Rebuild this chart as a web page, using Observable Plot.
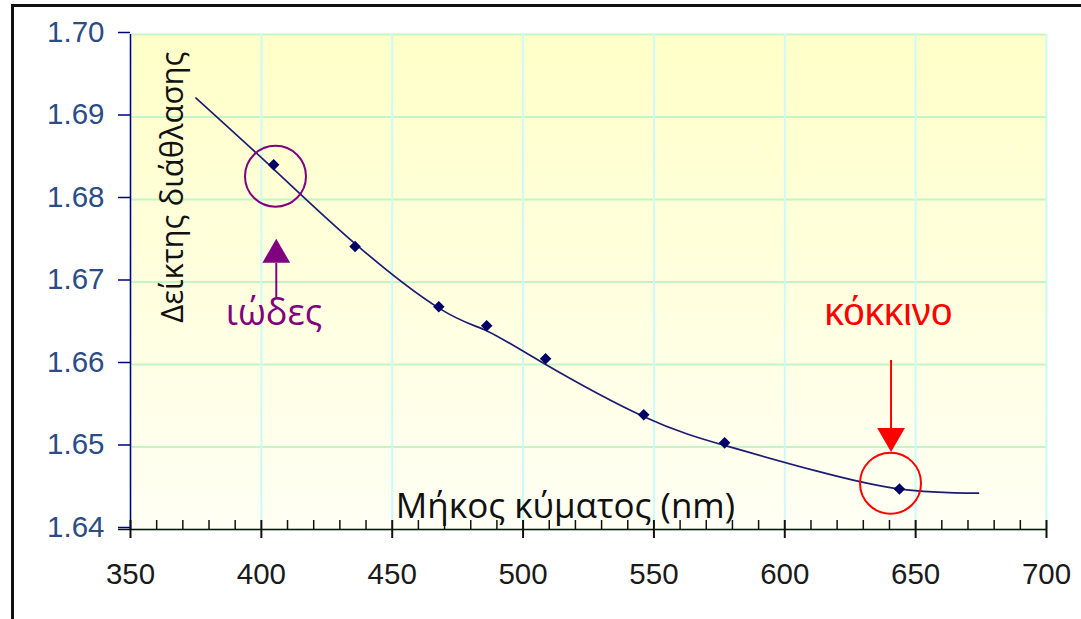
<!DOCTYPE html>
<html><head><meta charset="utf-8">
<script src="https://cdn.jsdelivr.net/npm/d3@7"></script>
<script src="https://cdn.jsdelivr.net/npm/@observablehq/plot@0.6"></script>
<style>
html,body{margin:0;padding:0;background:#fff;overflow:hidden;width:1081px;height:619px;}
#wrap{position:relative;width:1081px;height:619px;}
#frame{position:absolute;left:11px;top:4px;width:1200px;height:800px;border:3px solid #111;box-sizing:border-box;pointer-events:none;}
</style></head><body><div id="wrap"><div id="chart"></div><div id="frame"></div></div>
<script>
// Measured points: wavelength (nm) and refractive index
const wavelength = [404.7, 435.8, 467.8, 486.1, 508.6, 546.1, 577.0, 643.8];
const refIndex   = [1.6842, 1.6743, 1.6670, 1.6647, 1.6607, 1.6539, 1.6505, 1.6449];

// Trend curve
const fitX = [375, 405, 436, 468, 486, 507, 546, 578, 612, 644, 674];
const fitY = [1.6923, 1.6836, 1.6746, 1.6668, 1.6641, 1.6603, 1.6537, 1.6501, 1.6471, 1.6449, 1.6444];

// Axis ticks
const xTicks = [350, 400, 450, 500, 550, 600, 650, 700];
const xMinor = d3.range(350, 701, 10).filter(v => v % 50 !== 0);
const yTicks = [1.64, 1.65, 1.66, 1.67, 1.68, 1.69, 1.70];

// Annotations
const labelTexts = ["ιώδες", "κόκκινο"];
const labelX = [404.8, 639.6];
const labelY = [1.66473, 1.66473];
const circleX = [405.4, 640.4];
const circleY = [1.68282, 1.64561];
const arrowX = [405.7, 640.6];
const arrowHeadY = [1.67330, 1.65133];
const arrowShaftY1 = [1.67224, 1.66049];
const arrowShaftY2 = [1.66812, 1.65224];
const annColors = ["#800080", "#ff0000"];

const points = wavelength.map((w, i) => ({w, n: refIndex[i]}));
const fit = fitX.map((w, i) => ({w, n: fitY[i]}));
const ann = labelTexts.map((t, i) => ({
  t, lx: labelX[i], ly: labelY[i], cx: circleX[i], cy: circleY[i],
  ax: arrowX[i], ah: arrowHeadY[i], a1: arrowShaftY1[i], a2: arrowShaftY2[i],
  c: annColors[i], rot: i === 0 ? 0 : 180
}));

const chart = Plot.plot({
  width: 1081, height: 619,
  marginLeft: 130, marginRight: 35, marginTop: 34, marginBottom: 90,
  style: {fontFamily: "'Liberation Sans', Arial, sans-serif", background: "transparent", overflow: "visible"},
  x: {domain: [350, 700], axis: null},
  y: {domain: [1.64, 1.70], axis: null},
  marks: [
    Plot.frame({fill: "url(#bgGrad)", stroke: null}),
    Plot.ruleY(yTicks, {stroke: "#c4f5c4", strokeWidth: 2}),
    Plot.ruleX(xTicks, {stroke: "#ccfafa", strokeWidth: 2}),
    Plot.ruleX([350], {stroke: "#000080", strokeWidth: 1.5}),
    Plot.ruleY([1.64], {x1: 345.4, x2: 700, stroke: "#111", strokeWidth: 1.5}),
    Plot.ruleX(xMinor, {y1: 1.64, y2: 1.64109, stroke: "#111", strokeWidth: 1.5}),
    Plot.ruleX(xTicks, {y1: 1.63891, y2: 1.64109, stroke: "#111", strokeWidth: 2}),
    Plot.axisX({ticks: xTicks, tickSize: 0, tickPadding: 34, fontSize: 29.5, fill: "#1a1a1a", tickFormat: d => String(d), label: null}),
    Plot.axisY({ticks: yTicks, tickSize: 12, tickPadding: 14, fontSize: 29.5, fill: "#2c4c86", stroke: "#000080", strokeWidth: 1.5, tickFormat: d3.format(".2f"), dy: -2, label: null}),
    Plot.line(fit, {x: "w", y: "n", stroke: "#1c1c74", strokeWidth: 1.7, curve: "natural"}),
    Plot.dot(points, {x: "w", y: "n", symbol: "square", r: 4.6, rotate: 45, fill: "#000066", stroke: null}),
    Plot.dot(ann, {x: "cx", y: "cy", r: 30.5, stroke: "c", strokeWidth: 2, fill: "none"}),
    Plot.ruleX(ann, {x: "ax", y1: "a1", y2: "a2", stroke: "c", strokeWidth: 2}),
    Plot.dot(ann, {x: "ax", y: "ah", symbol: "triangle", r: 10.3, fill: "c", stroke: null, rotate: "rot"}),
    Plot.text(ann.slice(0,1), {x: "lx", y: "ly", text: "t", fill: "c", fontSize: 36, fontFamily: "'Open Sans', sans-serif", lineAnchor: "bottom", textAnchor: "middle"}),
    Plot.text(ann.slice(1), {x: "lx", y: "ly", text: "t", fill: "c", fontSize: 38.5, fontFamily: "'Liberation Sans', Arial, sans-serif", lineAnchor: "bottom", textAnchor: "middle"}),
    Plot.text(["Μήκος κύματος (nm)"], {x: 516.2, y: 1.64145, text: d => d, fontSize: 35, fill: "#111", fontFamily: "'Open Sans', sans-serif", lineAnchor: "bottom", textAnchor: "middle"}),
    Plot.text(["Δείκτης διάθλασης"], {x: 369.9, y: 1.68150, text: d => d, fontSize: 31, fill: "#111", rotate: -90, fontFamily: "'Open Sans', sans-serif", lineAnchor: "bottom", textAnchor: "middle"})
  ]
});

d3.select(chart).insert("defs", ":first-child").html(
  '<linearGradient id="bgGrad" x1="0" y1="0" x2="0" y2="1">' +
  '<stop offset="0" stop-color="#ffffc8"/><stop offset="1" stop-color="#fffff4"/></linearGradient>'
);
document.getElementById("chart").appendChild(chart);
</script></body></html>
